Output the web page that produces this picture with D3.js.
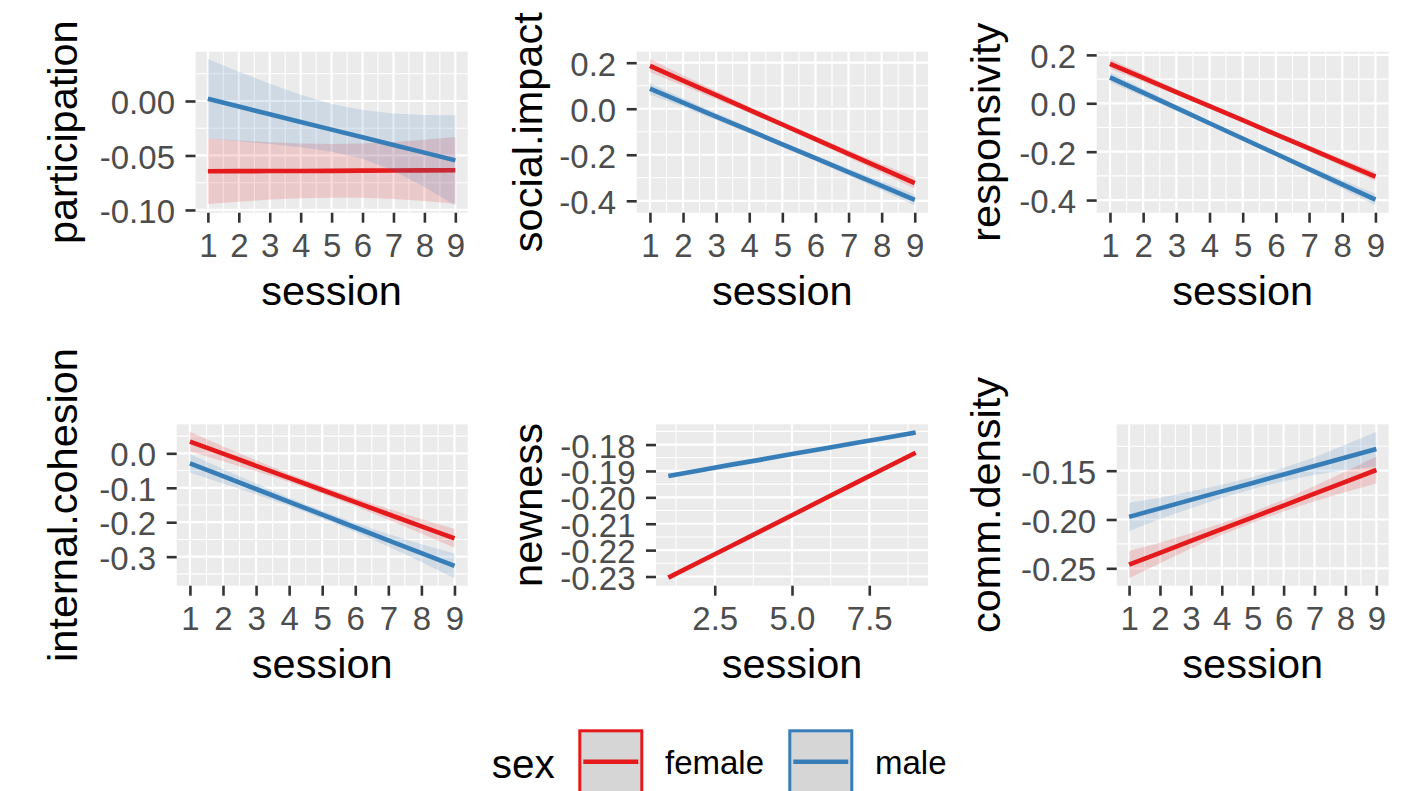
<!DOCTYPE html>
<html>
<head>
<meta charset="utf-8">
<script src="https://cdn.jsdelivr.net/npm/d3@7"></script>
<style>
body { margin: 0; background: #fff; }
svg { display: block; font-family: "Liberation Sans", Arial, Helvetica, sans-serif; }
</style>
</head>
<body>
<svg id="chart" width="1412" height="791"></svg>
<script>
// x values and legend groups
var sessions = [1, 2, 3, 4, 5, 6, 7, 8, 9];
var sexes = ["female", "male"];
var sessionTicks = [1, 2, 3, 4, 5, 6, 7, 8, 9];
var newnessXTicks = [2.5, 5.0, 7.5];

// participation
var participationFit = {
    female: [-0.0645, -0.0644, -0.0643, -0.0642, -0.0641, -0.0639, -0.0638, -0.0637, -0.0636],
    male:   [0.0020, -0.0051, -0.0121, -0.0192, -0.0263, -0.0333, -0.0404, -0.0474, -0.0545]
};
var participationLo = {
    female: [-0.0945, -0.0925, -0.0905, -0.0893, -0.0887, -0.0889, -0.0900, -0.0918, -0.0942],
    male:   [-0.0345, -0.0370, -0.0395, -0.0425, -0.0465, -0.0530, -0.0640, -0.0790, -0.0958]
};
var participationHi = {
    female: [-0.0345, -0.0362, -0.0378, -0.0390, -0.0395, -0.0390, -0.0376, -0.0356, -0.0330],
    male:   [0.0385, 0.0269, 0.0159, 0.0058, -0.0028, -0.0083, -0.0114, -0.0129, -0.0132]
};
var participationTicks = [-0.10, -0.05, 0.00];

// social.impact
var socialFit = {
    female: [0.186, 0.1224, 0.0587, -0.0049, -0.0685, -0.1321, -0.1958, -0.2594, -0.323],
    male:   [0.087, 0.0266, -0.0338, -0.0941, -0.1545, -0.2149, -0.2753, -0.3356, -0.396]
};
var socialLo = {
    female: [0.158, 0.0998, 0.0414, -0.0182, -0.080, -0.1446, -0.2118, -0.2794, -0.348],
    male:   [0.062, 0.0076, -0.0488, -0.1061, -0.1655, -0.2269, -0.2903, -0.3546, -0.420]
};
var socialHi = {
    female: [0.216, 0.146, 0.077, 0.009, -0.057, -0.120, -0.180, -0.240, -0.298],
    male:   [0.112, 0.0456, -0.0188, -0.0821, -0.1435, -0.2029, -0.2603, -0.3166, -0.372]
};
var socialTicks = [-0.4, -0.2, 0.0, 0.2];

// responsivity
var responsFit = {
    female: [0.163, 0.1048, 0.0465, -0.0118, -0.0700, -0.1283, -0.1865, -0.2448, -0.303],
    male:   [0.107, 0.0439, -0.0193, -0.0824, -0.1455, -0.2086, -0.2718, -0.3349, -0.398]
};
var responsLo = {
    female: [0.143, 0.0888, 0.0345, -0.0213, -0.0785, -0.1378, -0.1985, -0.2598, -0.321],
    male:   [0.087, 0.0279, -0.0313, -0.0919, -0.154, -0.2181, -0.2838, -0.3529, -0.422]
};
var responsHi = {
    female: [0.183, 0.1208, 0.0585, -0.0023, -0.0615, -0.1188, -0.1745, -0.2298, -0.285],
    male:   [0.127, 0.0599, -0.0073, -0.0729, -0.137, -0.1991, -0.2598, -0.3169, -0.374]
};
var responsTicks = [-0.4, -0.2, 0.0, 0.2];

// internal.cohesion
var cohesionFit = {
    female: [0.034, -0.0011, -0.0363, -0.0714, -0.1065, -0.1416, -0.1768, -0.2119, -0.247],
    male:   [-0.029, -0.0663, -0.1035, -0.1408, -0.178, -0.2153, -0.2525, -0.2898, -0.327]
};
var cohesionLo = {
    female: [0.005, -0.0231, -0.0523, -0.0834, -0.1175, -0.1536, -0.1928, -0.2329, -0.274],
    male:   [-0.056, -0.0873, -0.1195, -0.1528, -0.189, -0.2283, -0.2705, -0.3158, -0.363]
};
var cohesionHi = {
    female: [0.063, 0.0209, -0.0203, -0.0594, -0.0955, -0.1296, -0.1608, -0.1909, -0.220],
    male:   [-0.002, -0.0453, -0.0875, -0.1288, -0.167, -0.2023, -0.2345, -0.2638, -0.291]
};
var cohesionTicks = [-0.3, -0.2, -0.1, 0.0];

// newness
var newnessFit = {
    female: [-0.2304, -0.2245, -0.2186, -0.2127, -0.2068, -0.2008, -0.1949, -0.1890, -0.1831],
    male:   [-0.1919, -0.1898, -0.1877, -0.1857, -0.1836, -0.1816, -0.1795, -0.1775, -0.1754]
};
var newnessLo = {
    female: [-0.2307, -0.2247, -0.2188, -0.2129, -0.2070, -0.2010, -0.1951, -0.1892, -0.1834],
    male:   [-0.1922, -0.1900, -0.1879, -0.1859, -0.1838, -0.1818, -0.1797, -0.1777, -0.1757]
};
var newnessHi = {
    female: [-0.2301, -0.2243, -0.2184, -0.2125, -0.2066, -0.2006, -0.1947, -0.1888, -0.1828],
    male:   [-0.1916, -0.1896, -0.1875, -0.1855, -0.1834, -0.1814, -0.1793, -0.1773, -0.1751]
};
var newnessTicks = [-0.23, -0.22, -0.21, -0.20, -0.19, -0.18];

// comm.density
var densityFit = {
    female: [-0.2463, -0.2342, -0.2220, -0.2099, -0.1978, -0.1857, -0.1736, -0.1614, -0.1493],
    male:   [-0.1973, -0.1886, -0.1799, -0.1712, -0.1626, -0.1539, -0.1452, -0.1365, -0.1278]
};
var densityLo = {
    female: [-0.2603, -0.2447, -0.2298, -0.2159, -0.2033, -0.1917, -0.1814, -0.1719, -0.1631],
    male:   [-0.2118, -0.1996, -0.1884, -0.1780, -0.1688, -0.1607, -0.1542, -0.1495, -0.1456]
};
var densityHi = {
    female: [-0.2323, -0.2237, -0.2142, -0.2039, -0.1923, -0.1797, -0.1658, -0.1509, -0.1355],
    male:   [-0.1828, -0.1776, -0.1714, -0.1644, -0.1564, -0.1471, -0.1362, -0.1235, -0.1100]
};
var densityTicks = [-0.25, -0.20, -0.15];


var colour = d3.scaleOrdinal().domain(sexes).range(["#E41A1C", "#377EB8"]);

var panels = [
    {title: "participation", fit: participationFit, lo: participationLo, hi: participationHi,
        yTicks: participationTicks, yFmt: ".2f", xTicks: sessionTicks, xFmt: "d",
        box: [195.5, 51.7, 467.7, 212.7], titleX: 77},
    {title: "social.impact", fit: socialFit, lo: socialLo, hi: socialHi,
        yTicks: socialTicks, yFmt: ".1f", xTicks: sessionTicks, xFmt: "d",
        box: [636.7, 51.7, 928, 212.7], titleX: 541.5},
    {title: "responsivity", fit: responsFit, lo: responsLo, hi: responsHi,
        yTicks: responsTicks, yFmt: ".1f", xTicks: sessionTicks, xFmt: "d",
        box: [1096.7, 51.7, 1388.7, 212.7], titleX: 1000},
    {title: "internal.cohesion", fit: cohesionFit, lo: cohesionLo, hi: cohesionHi,
        yTicks: cohesionTicks, yFmt: ".1f", xTicks: sessionTicks, xFmt: "d",
        box: [176.7, 424.3, 467.7, 585.7], titleX: 77},
    {title: "newness", fit: newnessFit, lo: newnessLo, hi: newnessHi,
        yTicks: newnessTicks, yFmt: ".2f", xTicks: newnessXTicks, xFmt: ".1f",
        box: [656, 424.3, 928, 585.7], titleX: 541.5},
    {title: "comm.density", fit: densityFit, lo: densityLo, hi: densityHi,
        yTicks: densityTicks, yFmt: ".2f", xTicks: sessionTicks, xFmt: "d",
        box: [1116.7, 424.3, 1388.7, 585.7], titleX: 1000}
];

var svg = d3.select("#chart");

// ggplot style 5% expansion of the data range
function expand(ext) {
    var pad = (ext[1] - ext[0]) * 0.05;
    return [ext[0] - pad, ext[1] + pad];
}

// midpoints between major breaks, plus one step past each end
function minors(ticks, domain) {
    var out = [];
    var step = ticks[1] - ticks[0];
    out.push(ticks[0] - step / 2);
    for (var i = 0; i < ticks.length - 1; i++) out.push((ticks[i] + ticks[i + 1]) / 2);
    out.push(ticks[ticks.length - 1] + step / 2);
    return out.filter(function (v) { return v > domain[0] && v < domain[1]; });
}

// d3 formats "-0.10" with a unicode minus, ggplot uses a hyphen
function fmt(spec) {
    var f = d3.format(spec);
    return function (d) { return f(d).replace("\u2212", "-"); };
}

panels.forEach(function (p) {
    var left = p.box[0], top = p.box[1], right = p.box[2], bottom = p.box[3];

    var allY = [];
    sexes.forEach(function (s) { allY = allY.concat(p.lo[s], p.hi[s]); });

    var x = d3.scaleLinear().domain(expand(d3.extent(sessions))).range([left, right]);
    var y = d3.scaleLinear().domain(expand(d3.extent(allY))).range([bottom, top]);

    var g = svg.append("g");

    g.append("rect")
        .attr("x", left).attr("y", top)
        .attr("width", right - left).attr("height", bottom - top)
        .attr("fill", "#EBEBEB");

    // minor grid
    g.selectAll(".ymin").data(minors(p.yTicks, y.domain())).enter().append("line")
        .attr("x1", left).attr("x2", right)
        .attr("y1", function (d) { return y(d); }).attr("y2", function (d) { return y(d); })
        .attr("stroke", "#fff").attr("stroke-width", 1.1);
    g.selectAll(".xmin").data(minors(p.xTicks, x.domain())).enter().append("line")
        .attr("y1", top).attr("y2", bottom)
        .attr("x1", function (d) { return x(d); }).attr("x2", function (d) { return x(d); })
        .attr("stroke", "#fff").attr("stroke-width", 1.1);

    // major grid
    g.selectAll(".ymaj").data(p.yTicks).enter().append("line")
        .attr("x1", left).attr("x2", right)
        .attr("y1", function (d) { return y(d); }).attr("y2", function (d) { return y(d); })
        .attr("stroke", "#fff").attr("stroke-width", 2.2);
    g.selectAll(".xmaj").data(p.xTicks).enter().append("line")
        .attr("y1", top).attr("y2", bottom)
        .attr("x1", function (d) { return x(d); }).attr("x2", function (d) { return x(d); })
        .attr("stroke", "#fff").attr("stroke-width", 2.2);

    var area = d3.area()
        .x(function (d, i) { return x(sessions[i]); })
        .y0(function (d) { return y(d[0]); })
        .y1(function (d) { return y(d[1]); });

    var line = d3.line()
        .x(function (d, i) { return x(sessions[i]); })
        .y(function (d) { return y(d); });

    // each group: ribbon then line, female first
    sexes.forEach(function (s) {
        var band = p.lo[s].map(function (v, i) { return [v, p.hi[s][i]]; });
        g.append("path")
            .datum(band)
            .attr("d", area)
            .attr("fill", colour(s))
            .attr("fill-opacity", 0.16);
        g.append("path")
            .datum(p.fit[s])
            .attr("d", line)
            .attr("fill", "none")
            .attr("stroke", colour(s))
            .attr("stroke-width", 4.6);
    });

    var axisY = d3.axisLeft(y)
        .tickValues(p.yTicks)
        .tickFormat(fmt(p.yFmt))
        .tickSize(10)
        .tickPadding(10.5);

    var axisX = d3.axisBottom(x)
        .tickValues(p.xTicks)
        .tickFormat(fmt(p.xFmt))
        .tickSize(10)
        .tickPadding(11);

    var ay = g.append("g")
        .attr("transform", "translate(" + left + ",0)")
        .call(axisY);
    var ax = g.append("g")
        .attr("transform", "translate(0," + bottom + ")")
        .call(axisX);

    [ay, ax].forEach(function (a) {
        a.select(".domain").remove();
        a.selectAll(".tick line").attr("stroke", "#333333").attr("stroke-width", 2.6);
        a.selectAll(".tick text")
            .attr("fill", "#4D4D4D")
            .style("font-size", "33px")
            .style("font-family", "'Liberation Sans', Arial, sans-serif");
    });
    ay.selectAll(".tick text").attr("dy", "0.38em");

    g.append("text")
        .attr("x", (left + right) / 2)
        .attr("y", bottom + 92)
        .attr("text-anchor", "middle")
        .style("font-size", "41.5px")
        .attr("fill", "#000")
        .text("session");

    g.append("text")
        .attr("transform", "translate(" + p.titleX + "," + ((top + bottom) / 2) + ") rotate(-90)")
        .attr("text-anchor", "middle")
        .style("font-size", "41.5px")
        .attr("fill", "#000")
        .text(p.title);
});

// legend
var legend = svg.append("g");
legend.append("text")
    .attr("x", 491.7).attr("y", 778)
    .style("font-size", "40.5px")
    .text("sex");

var keyX = [578.3, 788.3];
var labelX = [665, 875];
sexes.forEach(function (s, i) {
    legend.append("rect")
        .attr("x", keyX[i] + 1.5).attr("y", 730.8)
        .attr("width", 62).attr("height", 62)
        .attr("fill", "#D6D6D6")
        .attr("stroke", colour(s))
        .attr("stroke-width", 3);
    legend.append("line")
        .attr("x1", keyX[i] + 5).attr("x2", keyX[i] + 60)
        .attr("y1", 761.7).attr("y2", 761.7)
        .attr("stroke", colour(s))
        .attr("stroke-width", 4.6);
    legend.append("text")
        .attr("x", labelX[i]).attr("y", 774)
        .style("font-size", "33px")
        .text(s);
});
</script>
</body>
</html>
